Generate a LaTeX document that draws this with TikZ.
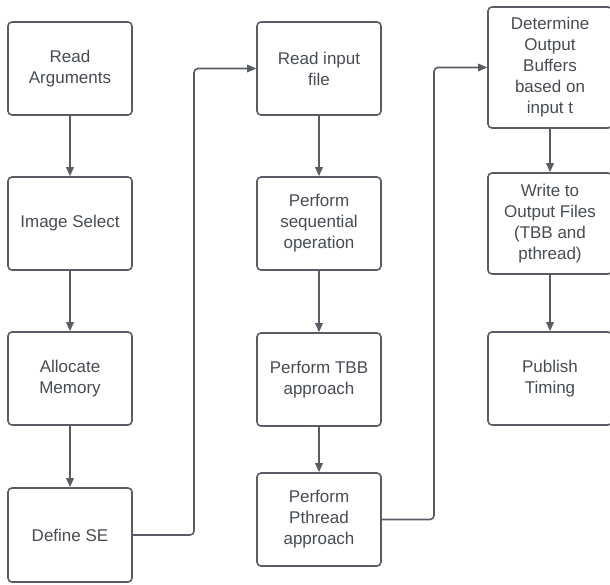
\documentclass[tikz,border=0pt]{standalone}
\usepackage{fontspec}
\setmainfont{Liberation Sans}
\usetikzlibrary{arrows.meta}
\definecolor{linec}{HTML}{585D65}
\definecolor{textc}{HTML}{474C54}
\tikzset{
  stepbox/.style={draw=linec, line width=1.6pt, rounded corners=4pt, fill=white,
    minimum width=124pt, align=center, text=textc,
    font=\fontsize{17}{21}\selectfont, inner sep=0pt},
  flow/.style={draw=linec, line width=1.6pt, -{Triangle[length=9pt,width=7.5pt]}},
  link/.style={flow, rounded corners=4pt}
}
\begin{document}
\begin{tikzpicture}[x=1pt,y=1pt]
\useasboundingbox (0,0) rectangle (610,-584);
\clip (0,0) rectangle (610,-584);
% column 1
\node[stepbox, minimum height=93pt] (ra) at (70,-68.5) {Read\\Arguments};
\node[stepbox, minimum height=93pt] (is) at (70,-223.5) {Image Select};
\node[stepbox, minimum height=93pt] (am) at (70,-378.5) {Allocate\\Memory};
\node[stepbox, minimum height=94pt] (dse) at (70,-535) {Define SE};
% column 2
\node[stepbox, minimum height=93pt] (rif) at (319,-68.5) {Read input\\file};
\node[stepbox, minimum height=93pt] (seq) at (319,-223.5) {Perform\\sequential\\operation};
\node[stepbox, minimum height=93pt] (tbb) at (319,-379.5) {Perform TBB\\approach};
\node[stepbox, minimum height=93pt] (pth) at (319,-519.5) {Perform\\Pthread\\approach};
% column 3
\node[stepbox, minimum height=121pt] (dob) at (550,-67.5) {Determine\\Output\\Buffers\\based on\\input t};
\node[stepbox, minimum height=101pt] (wof) at (550,-223.5) {Write to\\Output Files\\(TBB and\\pthread)};
\node[stepbox, minimum height=93pt] (pt) at (550,-378.5) {Publish\\Timing};
% junctions
\coordinate (j1) at (194,-68.5);
\coordinate (j2) at (434,-67.5);
% connectors
\draw[flow] (ra) -- (is);
\draw[flow] (is) -- (am);
\draw[flow] (am) -- (dse);
\draw[link] (dse.east) -| (j1) -- (rif.west);
\draw[flow] (rif) -- (seq);
\draw[flow] (seq) -- (tbb);
\draw[flow] (tbb) -- (pth);
\draw[link] (pth.east) -| (j2) -- (dob.west);
\draw[flow] (dob) -- (wof);
\draw[flow] (wof) -- (pt);
\end{tikzpicture}
\end{document}
